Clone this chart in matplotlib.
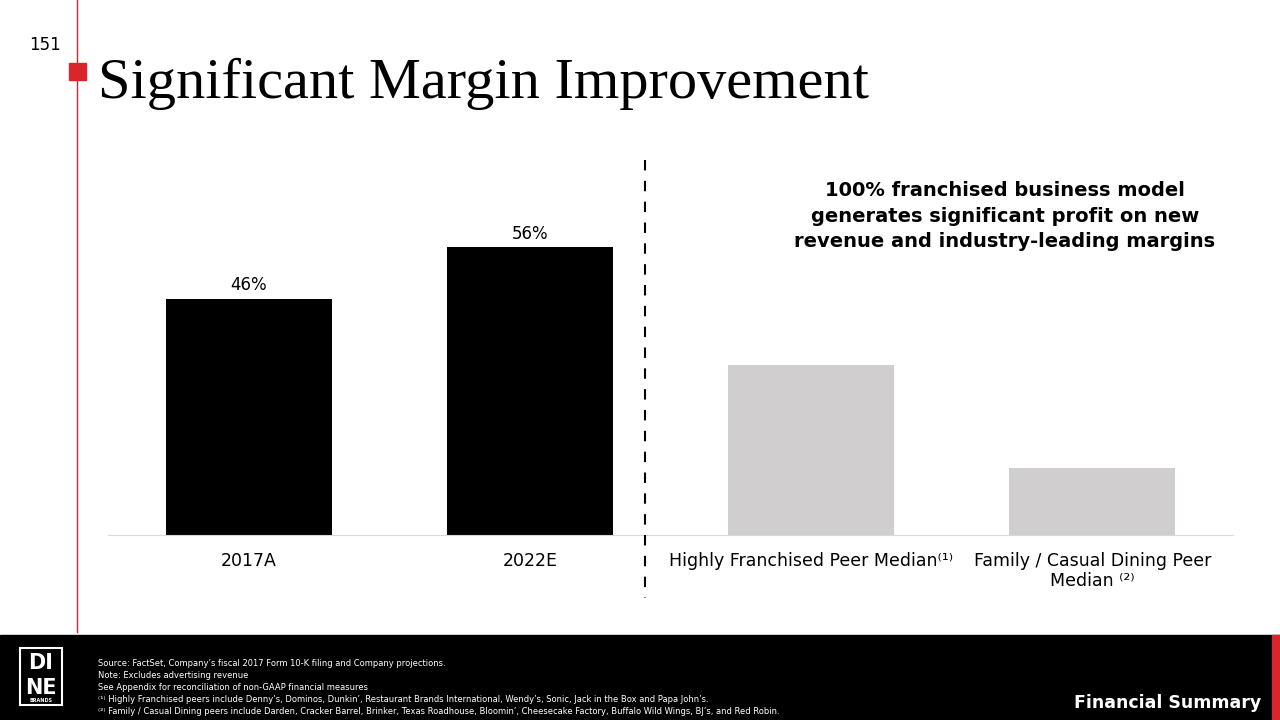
import matplotlib.pyplot as plt
from matplotlib.patches import Rectangle

# Данные
categories = ['2017A', '2022E', 'Highly Franchised Peer Median\u207d\u00b9\u207e',
              'Family / Casual Dining Peer\nMedian \u207d\u00b2\u207e']
margins = [46, 56, 33, 13]
value_labels = ['46%', '56%', '', '']
bar_colors = ['#000000', '#000000', '#d0cece', '#d0cece']

footnotes = [
    "Source: FactSet, Company\u2019s fiscal 2017 Form 10-K filing and Company projections.",
    "Note: Excludes advertising revenue",
    "See Appendix for reconciliation of non-GAAP financial measures",
    "\u207d\u00b9\u207e Highly Franchised peers include Denny\u2019s, Dominos, Dunkin\u2019, Restaurant Brands International, Wendy\u2019s, Sonic, Jack in the Box and Papa John\u2019s.",
    "\u207d\u00b2\u207e Family / Casual Dining peers include Darden, Cracker Barrel, Brinker, Texas Roadhouse, Bloomin\u2019, Cheesecake Factory, Buffalo Wild Wings, BJ\u2019s, and Red Robin.",
]

plt.rcParams['font.family'] = 'DejaVu Sans'
W, H = 1280, 720
fig = plt.figure(figsize=(12.8, 7.2), dpi=100)


def fx(x):
    return x / W


def fy(y):
    return 1 - y / H


# Оформление слайда
fig.add_artist(plt.Line2D([fx(77), fx(77)], [fy(0), fy(632)], color='#d9262c', lw=1))
fig.add_artist(Rectangle((fx(69), fy(80)), fx(17), 17 / H, color='#d9262c'))
fig.text(fx(45), fy(45), '151', ha='center', va='center', fontsize=12)
fig.text(fx(98), fy(84), 'Significant Margin Improvement', fontsize=42,
         family='Liberation Serif', va='center', ha='left')

# Нижняя плашка
fig.add_artist(Rectangle((0, 0), 1, 85 / H, color='black'))
fig.add_artist(Rectangle((fx(1272), 0), fx(8), 85 / H, color='#d9262c'))
fig.add_artist(Rectangle((fx(20), fy(705)), fx(42), 57 / H, fill=False, ec='white', lw=1.5))
fig.text(fx(41), fy(663), 'DI', color='white', fontsize=15, weight='bold', ha='center', va='center')
fig.text(fx(41), fy(688), 'NE', color='white', fontsize=15, weight='bold', ha='center', va='center')
fig.text(fx(41), fy(701), 'BRANDS', color='white', fontsize=3.5, weight='bold', ha='center', va='center')
for i, line in enumerate(footnotes):
    fig.text(fx(98), fy(663 + 12 * i), line, color='white', fontsize=6, va='center', ha='left')
fig.text(fx(1261), fy(703), 'Financial Summary', color='white', fontsize=12.5,
         weight='bold', ha='right', va='center')

# График
ax = fig.add_axes([fx(108), fy(535), fx(1233 - 108), (535 - 160) / H])
x = range(len(categories))
bars = ax.bar(x, margins, width=0.59, color=bar_colors)
for b, lab in zip(bars, value_labels):
    if lab:
        ax.text(b.get_x() + b.get_width() / 2, b.get_height() + 0.9, lab,
                ha='center', va='bottom', fontsize=12)
ax.set_xlim(-0.5, 3.5)
ax.set_ylim(0, 73)
ax.set_xticks(list(x))
ax.set_xticklabels(categories, fontsize=12.5, va='top')
ax.tick_params(axis='x', length=0, pad=12)
ax.set_yticks([])
for s in ['top', 'left', 'right']:
    ax.spines[s].set_visible(False)
ax.spines['bottom'].set_color('#d9d9d9')

fig.add_artist(plt.Line2D([fx(645), fx(645)], [fy(160), fy(598)], color='black',
                          lw=1.5, ls=(0, (5, 5))))
fig.text(fx(1005), fy(216), '100% franchised business model\ngenerates significant profit on new\nrevenue and industry-leading margins',
         ha='center', va='center', fontsize=14, weight='bold', linespacing=1.45)

fig.savefig('out.png', dpi=100)
